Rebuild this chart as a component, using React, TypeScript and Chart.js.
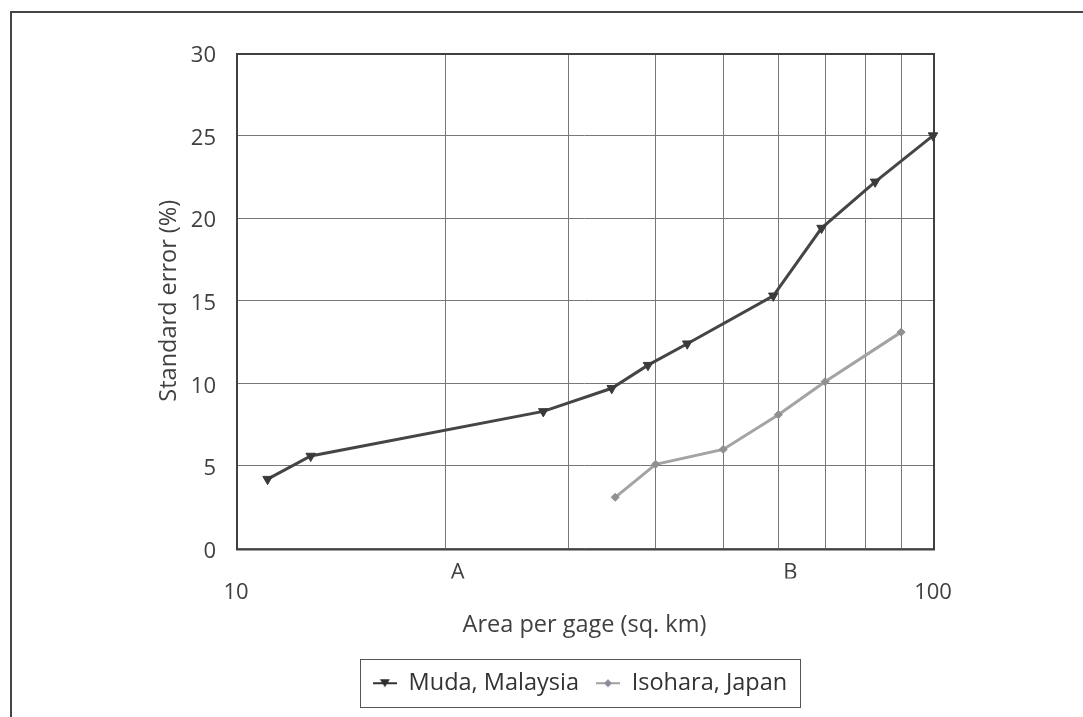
import React, { useEffect, useRef } from 'react';
import { Chart, registerables } from 'chart.js';

Chart.register(...registerables);

// ---- data ----
const mudaArea = [11.1, 12.8, 27.6, 34.6, 39.0, 44.4, 59.0, 69.2, 82.6, 100];
const mudaError = [4.2, 5.6, 8.3, 9.7, 11.1, 12.4, 15.3, 19.4, 22.2, 25.0];
const isoharaArea = [35, 40, 50, 60, 70, 90];
const isoharaError = [3.1, 5.1, 6.0, 8.1, 10.1, 13.1];

const seriesNames = ['Muda, Malaysia', 'Isohara, Japan'];
const gridTicks = [10, 20, 30, 40, 50, 60, 70, 80, 90, 100];
const letterTickValues = [20, 60];
const letterTickLabels = ['A', 'B'];
const endTicks = [10, 100];
const yMin = 0;
const yMax = 30;
const yStep = 5;
const xTitle = 'Area per gage (sq. km)';
const yTitle = 'Standard error (%)';

const FONT = '"Open Sans", "Noto Sans", sans-serif';
const TEXT = '#404040';
const MUDA_COLOR = '#454545';
const ISO_COLOR = '#a3a3a3';

function makeIcon(color: string, marker: string, markerColor: string): HTMLCanvasElement {
  const c = document.createElement('canvas');
  c.width = 24;
  c.height = 14;
  const ctx = c.getContext('2d')!;
  ctx.strokeStyle = color;
  ctx.lineWidth = 2;
  ctx.beginPath();
  ctx.moveTo(0, 7);
  ctx.lineTo(24, 7);
  ctx.stroke();
  ctx.fillStyle = markerColor;
  ctx.beginPath();
  if (marker === 'triangle') {
    ctx.moveTo(7, 3);
    ctx.lineTo(17, 3);
    ctx.lineTo(12, 11);
  } else {
    ctx.moveTo(12, 3);
    ctx.lineTo(16, 7);
    ctx.lineTo(12, 11);
    ctx.lineTo(8, 7);
  }
  ctx.closePath();
  ctx.fill();
  return c;
}

const framePlugin = {
  id: 'frames',
  beforeDraw(chart: any) {
    const { ctx, width, height } = chart;
    ctx.save();
    ctx.fillStyle = '#ffffff';
    ctx.fillRect(0, 0, width, height);
    ctx.strokeStyle = '#454545';
    ctx.lineWidth = 2;
    ctx.strokeRect(11, 12, width + 50, height + 50);
    ctx.restore();
  },
  beforeDatasetsDraw(chart: any) {
    const { ctx, chartArea: ca } = chart;
    ctx.save();
    ctx.strokeStyle = '#404040';
    ctx.lineWidth = 2;
    ctx.strokeRect(ca.left + 1, ca.top + 1, ca.right - ca.left, ca.bottom - ca.top);
    ctx.restore();
  },
  afterDraw(chart: any) {
    const legend = chart.legend;
    if (!legend || !legend.legendHitBoxes || !legend.legendHitBoxes.length) return;
    const boxes = legend.legendHitBoxes;
    let l = Infinity, r = -Infinity, t = Infinity, b = -Infinity;
    boxes.forEach((h: any) => {
      l = Math.min(l, h.left);
      r = Math.max(r, h.left + h.width);
      t = Math.min(t, h.top);
      b = Math.max(b, h.top + h.height);
    });
    const { ctx } = chart;
    ctx.save();
    ctx.strokeStyle = '#555555';
    ctx.lineWidth = 1;
    ctx.strokeRect(Math.round(l - 13) + 0.5, Math.round(t - 13) + 0.5, Math.round(r - l + 26), Math.round(b - t + 24));
    ctx.restore();
  },
};

export default function App() {
  const ref = useRef<HTMLCanvasElement | null>(null);

  useEffect(() => {
    if (!ref.current) return;
    const mudaIcon = makeIcon('#333333', 'triangle', '#2e2e2e');
    const isoIcon = makeIcon('#a0a0a0', 'diamond', '#8a8a98');

    const chart = new Chart(ref.current, {
      type: 'line',
      data: {
        datasets: [
          {
            label: seriesNames[0],
            data: mudaArea.map((x, i) => ({ x, y: mudaError[i] })),
            borderColor: MUDA_COLOR,
            backgroundColor: MUDA_COLOR,
            borderWidth: 3,
            pointStyle: 'triangle',
            rotation: 180,
            pointRadius: 5.5,
            pointBackgroundColor: '#3a3a3a',
            pointBorderColor: '#3a3a3a',
            pointBorderWidth: 1,
            tension: 0,
            clip: false,
            xAxisID: 'x',
            yAxisID: 'y',
          },
          {
            label: seriesNames[1],
            data: isoharaArea.map((x, i) => ({ x, y: isoharaError[i] })),
            borderColor: ISO_COLOR,
            backgroundColor: ISO_COLOR,
            borderWidth: 3,
            pointStyle: 'rectRot',
            pointRadius: 4,
            pointBackgroundColor: '#909090',
            pointBorderColor: '#909090',
            pointBorderWidth: 1,
            tension: 0,
            clip: false,
            xAxisID: 'x',
            yAxisID: 'y',
          },
        ],
      },
      options: {
        animation: false,
        responsive: false,
        devicePixelRatio: 1,
        layout: { padding: { left: 77, right: 0, top: 53, bottom: 12 } },
        plugins: {
          tooltip: { enabled: false },
          legend: {
            display: true,
            position: 'bottom',
            align: 'center',
            labels: {
              usePointStyle: true,
              pointStyleWidth: 24,
              padding: 17,
              color: '#333333',
              font: { family: FONT, size: 23.5 },
              generateLabels: () => [
                { text: seriesNames[0], pointStyle: mudaIcon, fillStyle: MUDA_COLOR, strokeStyle: MUDA_COLOR, lineWidth: 0, hidden: false, datasetIndex: 0, fontColor: '#333333' },
                { text: seriesNames[1], pointStyle: isoIcon, fillStyle: ISO_COLOR, strokeStyle: ISO_COLOR, lineWidth: 0, hidden: false, datasetIndex: 1, fontColor: '#333333' },
              ] as any,
            },
          },
        },
        scales: {
          x: {
            type: 'logarithmic',
            position: 'bottom',
            weight: 0,
            min: gridTicks[0],
            max: gridTicks[gridTicks.length - 1],
            afterBuildTicks: (s: any) => {
              s.ticks = gridTicks.map((v) => ({ value: v }));
            },
            afterFit: (s: any) => {
              s.height = 30;
            },
            ticks: {
              autoSkip: false,
              maxRotation: 0,
              minRotation: 0,
              padding: 11,
              labelOffset: 12,
              color: TEXT,
              font: { family: FONT, size: 22 },
              callback: (v: any) => {
                const i = letterTickValues.indexOf(Number(v));
                return i >= 0 ? letterTickLabels[i] : '';
              },
            },
            grid: { display: true, color: '#777777', lineWidth: 1, drawTicks: false },
            border: { display: false },
          },
          x2: {
            type: 'logarithmic',
            position: 'bottom',
            weight: 1,
            min: endTicks[0],
            max: endTicks[1],
            afterBuildTicks: (s: any) => {
              s.ticks = endTicks.map((v) => ({ value: v }));
            },
            afterFit: (s: any) => {
              s.height = 76;
            },
            ticks: {
              autoSkip: false,
              maxRotation: 0,
              minRotation: 0,
              padding: 1,
              color: TEXT,
              font: { family: FONT, size: 22 },
              callback: (v: any) => String(v),
            },
            grid: { display: false, drawTicks: false },
            border: { display: false },
            title: {
              display: true,
              text: xTitle,
              color: TEXT,
              font: { family: FONT, size: 23.5 },
              padding: { top: 0, bottom: 15 },
            },
          },
          y: {
            type: 'linear',
            position: 'left',
            min: yMin,
            max: yMax,
            afterFit: (s: any) => {
              s.width = 159;
            },
            ticks: {
              stepSize: yStep,
              padding: 20,
              labelOffset: 3,
              color: TEXT,
              font: { family: FONT, size: 22 },
            },
            grid: { display: true, color: '#777777', lineWidth: 1, drawTicks: false },
            border: { display: false },
            title: {
              display: true,
              text: yTitle,
              color: TEXT,
              font: { family: FONT, size: 23.5 },
              padding: { top: 78, bottom: 0 },
            },
          },
          yRight: {
            type: 'linear',
            position: 'right',
            display: true,
            afterFit: (s: any) => {
              s.width = 150;
            },
            ticks: { display: false },
            grid: { display: false, drawTicks: false },
            border: { display: false },
          },
        },
      } as any,
      plugins: [framePlugin],
    });
    return () => chart.destroy();
  }, []);

  return (
    <div style={{ position: 'fixed', left: 0, top: 0, width: 1083, height: 717 }}>
      <canvas ref={ref} width={1083} height={717} style={{ display: 'block', width: 1083, height: 717 }} />
    </div>
  );
}
